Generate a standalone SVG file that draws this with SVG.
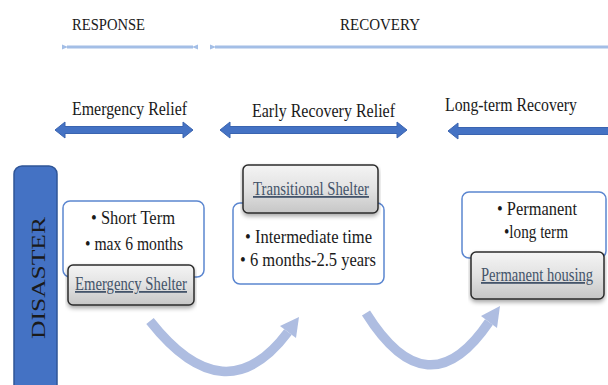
<svg xmlns="http://www.w3.org/2000/svg" width="608" height="385" viewBox="0 0 608 385">
  <defs>
    <style>
      .serif { font-family: "Liberation Serif", "Times New Roman", serif; fill: #1a1a1a; }
      .phase { font-size: 17.5px; }
      .stage { font-size: 19px; }
      .item { font-size: 19px; }
      .btn-label { font-family: "Liberation Serif", "Times New Roman", serif; font-size: 18px; fill: #44546A; text-decoration: underline; }
      .info { fill: #ffffff; stroke: #5B86D0; stroke-width: 1.5; }
      .btn { fill: url(#btnGrad); stroke: #2b2b2b; stroke-width: 1.5; filter: url(#shadow); }
      .timeline { fill: none; stroke: #A3BEE6; stroke-width: 3; }
      .stage-arrow { fill: #4472C4; stroke: #3A64B0; stroke-width: 1; }
      .flow { fill: none; stroke: #AEBDE1; stroke-width: 9.5; stroke-linecap: butt; }
      .flow-head { fill: #AEBDE1; }
    </style>
    <linearGradient id="btnGrad" x1="0" y1="0" x2="0" y2="1">
      <stop offset="0" stop-color="#F4F4F4"/>
      <stop offset="0.5" stop-color="#E2E2E2"/>
      <stop offset="1" stop-color="#C6C6C6"/>
    </linearGradient>
    <filter id="shadow" x="-2%" y="-10%" width="104%" height="135%">
      <feDropShadow dx="0" dy="2.5" stdDeviation="2" flood-color="#000" flood-opacity="0.35"/>
    </filter>
    <marker id="tipL" viewBox="0 0 6 6" refX="1" refY="3" markerWidth="6" markerHeight="6" markerUnits="userSpaceOnUse" orient="auto-start-reverse">
      <path d="M0,3 L6,0.5 L6,5.5 Z" fill="#A3BEE6"/>
    </marker>
  </defs>

  <!-- phase headings -->
  <text class="serif phase" x="108.5" y="30" text-anchor="middle" textLength="73" lengthAdjust="spacingAndGlyphs">RESPONSE</text>
  <text class="serif phase" x="380" y="30" text-anchor="middle" textLength="80" lengthAdjust="spacingAndGlyphs">RECOVERY</text>

  <!-- stage headings -->
  <text class="serif stage" x="129.5" y="115" text-anchor="middle" textLength="115" lengthAdjust="spacingAndGlyphs">Emergency Relief</text>
  <text class="serif stage" x="323.5" y="117" text-anchor="middle" textLength="143" lengthAdjust="spacingAndGlyphs">Early Recovery Relief</text>
  <text class="serif stage" x="511" y="111" text-anchor="middle" textLength="132" lengthAdjust="spacingAndGlyphs">Long-term Recovery</text>

  <g id="connectors">
    <!-- phase timelines -->
    <path class="timeline" d="M67,47 L193,47" marker-start="url(#tipL)" marker-end="url(#tipL)"/>
    <path class="timeline" d="M215,47 L612,47" marker-start="url(#tipL)"/>

    <!-- stage spans -->
    <path class="stage-arrow" d="M55,130 L65,122 L65,126.5 L183,126.5 L183,122 L193,130 L183,138 L183,133.5 L65,133.5 L65,138 Z"/>
    <path class="stage-arrow" d="M220,130 L230,122 L230,126.5 L397,126.5 L397,122 L407,130 L397,138 L397,133.5 L230,133.5 L230,138 Z"/>
    <path class="stage-arrow" d="M448,131 L458,123 L458,127.5 L620,127.5 L620,134.5 L458,134.5 L458,139 Z"/>

    <!-- shelter progression -->
    <path class="flow" d="M150,321 Q225,416 288,332"/>
    <polygon class="flow-head" points="299,317 296,338 280,326"/>
    <path class="flow" d="M366,313 Q428,412 489,322"/>
    <polygon class="flow-head" points="500,306 497,328 481,316"/>
  </g>

  <g id="disaster">
    <rect x="14" y="166" width="43" height="240" rx="8" fill="#4472C4" stroke="#2F5597" stroke-width="1.5"/>
    <text class="serif" transform="translate(45,278) rotate(-90)" text-anchor="middle" font-size="19" textLength="122" lengthAdjust="spacingAndGlyphs">DISASTER</text>
  </g>

  <g id="emergency-info">
    <rect class="info" x="63" y="201" width="141" height="76" rx="7"/>
    <text class="serif item" x="133" y="224" text-anchor="middle" textLength="84" lengthAdjust="spacingAndGlyphs">• Short Term</text>
    <text class="serif item" x="134" y="250" text-anchor="middle" textLength="98" lengthAdjust="spacingAndGlyphs">• max 6 months</text>
  </g>
  <g id="emergency-shelter">
    <rect class="btn" x="68" y="265" width="126" height="40" rx="5"/>
    <text class="btn-label" x="131" y="290" text-anchor="middle" textLength="112" lengthAdjust="spacingAndGlyphs">Emergency Shelter</text>
  </g>

  <g id="transitional-info">
    <rect class="info" x="233" y="203" width="151" height="81" rx="7"/>
    <text class="serif item" x="308.5" y="243" text-anchor="middle" textLength="127" lengthAdjust="spacingAndGlyphs">• Intermediate time</text>
    <text class="serif item" x="308" y="266" text-anchor="middle" textLength="136" lengthAdjust="spacingAndGlyphs">• 6 months-2.5 years</text>
  </g>
  <g id="transitional-shelter">
    <rect class="btn" x="243" y="165" width="135" height="48" rx="5"/>
    <text class="btn-label" x="311" y="195" text-anchor="middle" textLength="116" lengthAdjust="spacingAndGlyphs">Transitional Shelter</text>
  </g>

  <g id="permanent-info">
    <rect class="info" x="462" y="192" width="144" height="66" rx="7"/>
    <text class="serif item" x="537" y="215" text-anchor="middle" textLength="80" lengthAdjust="spacingAndGlyphs">• Permanent</text>
    <text class="serif item" x="536" y="238" text-anchor="middle" textLength="64" lengthAdjust="spacingAndGlyphs">•long term</text>
  </g>
  <g id="permanent-housing">
    <rect class="btn" x="471" y="252" width="133" height="47" rx="5"/>
    <text class="btn-label" x="537" y="281" text-anchor="middle" font-size="17" textLength="112" lengthAdjust="spacingAndGlyphs">Permanent housing</text>
  </g>
</svg>
